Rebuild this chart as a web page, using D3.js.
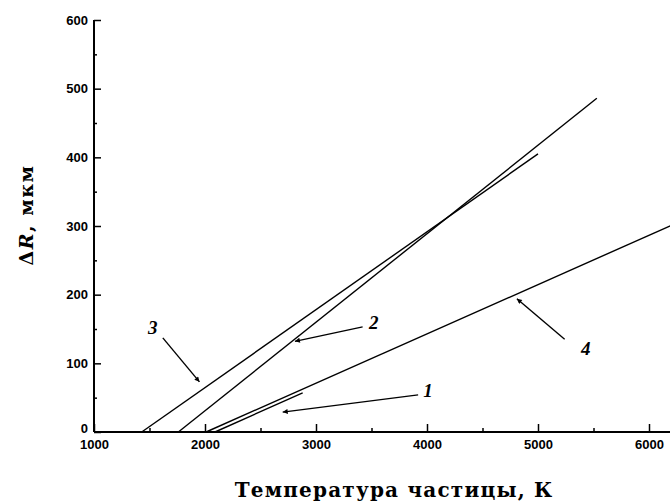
<!DOCTYPE html>
<html><head><meta charset="utf-8">
<script src="https://cdn.jsdelivr.net/npm/d3@7"></script>
<style>body{margin:0;background:#fff}svg{display:block}</style>
</head><body>
<svg id="c" width="670" height="504"></svg>
<script>
const xTicks = [1000, 2000, 3000, 4000, 5000, 6000];
const yTicks = [0, 100, 200, 300, 400, 500, 600];
const xMinor = [1500, 2500, 3500, 4500, 5500];
const yMinor = [50, 150, 250, 350, 450, 550];
const seriesNames = ["1", "2", "3", "4"];
const line1 = [[2090, 0], [2880, 57]];
const line2 = [[1760, 0], [5530, 486]];
const line3 = [[1430, 0], [5000, 405]];
const line4 = [[2010, 0], [6300, 308]];
// annotation: label position [T, value], arrow from [T, value] to [T, value]
const labelPos = [[4010, 61], [3520, 160], [1530, 152], [5430, 122]];
const arrowFrom = [[3920, 54], [3420, 153], [1620, 137], [5240, 135]];
const arrowTo = [[2700, 29], [2810, 132], [1950, 73], [4810, 194]];

const svg = d3.select("#c");
const x = d3.scaleLinear().domain([1000, 6000]).range([94, 649]);
const y = d3.scaleLinear().domain([0, 600]).range([432, 20]);
const xEnd = 6400;
const tickFont = "Liberation Sans, Arial, sans-serif";

// axes
const xAxis = d3.axisBottom(x).tickValues(xTicks).tickSize(-8).tickPadding(8).tickFormat(d3.format("d"));
const gx = svg.append("g").attr("transform", `translate(0,${y(0)})`).call(xAxis);
gx.select(".domain").remove();
gx.append("line").attr("x1", x(1000)).attr("x2", x(xEnd)).attr("stroke", "#000").attr("stroke-width", 2);
gx.selectAll(".tick line").attr("stroke", "#000").attr("stroke-width", 1.5);
gx.selectAll(".tick text").attr("font-family", tickFont).attr("font-weight", "bold").attr("font-size", 13).attr("fill", "#000");
const gxm = d3.axisBottom(x).tickValues(xMinor).tickSize(-4).tickFormat("");
const gx2 = svg.append("g").attr("transform", `translate(0,${y(0)})`).call(gxm);
gx2.select(".domain").remove();
gx2.selectAll(".tick line").attr("stroke", "#000").attr("stroke-width", 1.5);

const yAxis = d3.axisLeft(y).tickValues(yTicks).tickSize(-7).tickPadding(6);
const gy = svg.append("g").attr("transform", `translate(${x(1000)},0)`).call(yAxis);
gy.select(".domain").remove();
gy.append("line").attr("y1", y(0)).attr("y2", y(600)).attr("stroke", "#000").attr("stroke-width", 2);
gy.selectAll(".tick line").attr("stroke", "#000").attr("stroke-width", 1.5);
gy.selectAll(".tick text").attr("font-family", tickFont).attr("font-weight", "bold").attr("font-size", 13).attr("fill", "#000");
gy.selectAll(".tick").filter(d => d === 0).select("text").attr("dy", "0.05em");
const gym = d3.axisLeft(y).tickValues(yMinor).tickSize(-3).tickFormat("");
const gy2 = svg.append("g").attr("transform", `translate(${x(1000)},0)`).call(gym);
gy2.select(".domain").remove();
gy2.selectAll(".tick line").attr("stroke", "#000").attr("stroke-width", 1.5);

// lines
const lg = d3.line().x(d => x(d[0])).y(d => y(d[1]));
[line1, line2, line3, line4].forEach(s => {
  svg.append("path").attr("d", lg(s)).attr("fill", "none").attr("stroke", "#000").attr("stroke-width", 1.4);
});

// arrow marker
svg.append("defs").append("marker").attr("id", "ah").attr("viewBox", "0 0 10 10")
  .attr("refX", 10).attr("refY", 5).attr("markerWidth", 11).attr("markerHeight", 5)
  .attr("markerUnits", "userSpaceOnUse").attr("orient", "auto")
  .append("path").attr("d", "M0,0 L10,5 L0,10 Z").attr("fill", "#000");

seriesNames.forEach((n, i) => {
  svg.append("line")
    .attr("x1", x(arrowFrom[i][0])).attr("y1", y(arrowFrom[i][1]))
    .attr("x2", x(arrowTo[i][0])).attr("y2", y(arrowTo[i][1]))
    .attr("stroke", "#000").attr("stroke-width", 1.4).attr("marker-end", "url(#ah)");
  svg.append("text").attr("x", x(labelPos[i][0])).attr("y", y(labelPos[i][1]))
    .attr("text-anchor", "middle").attr("dominant-baseline", "central")
    .attr("font-family", "Liberation Serif, Times New Roman, serif").attr("font-style", "italic")
    .attr("font-weight", "bold").attr("font-size", 19).text(n);
});

// axis titles
svg.append("text").attr("x", 394).attr("y", 497).attr("text-anchor", "middle")
  .attr("font-family", "DejaVu Serif, serif").attr("font-weight", "bold").attr("font-size", 20)
  .attr("letter-spacing", 1.2)
  .text("Температура частицы, К");
const yt = svg.append("text").attr("transform", "translate(33,215) rotate(-90)").attr("text-anchor", "middle")
  .attr("font-family", "DejaVu Serif, serif").attr("font-weight", "bold").attr("font-size", 19)
  .attr("letter-spacing", 1.5);
yt.append("tspan").text("Δ");
yt.append("tspan").attr("font-style", "italic").text("R");
yt.append("tspan").text(", мкм");
</script>
</body></html>
